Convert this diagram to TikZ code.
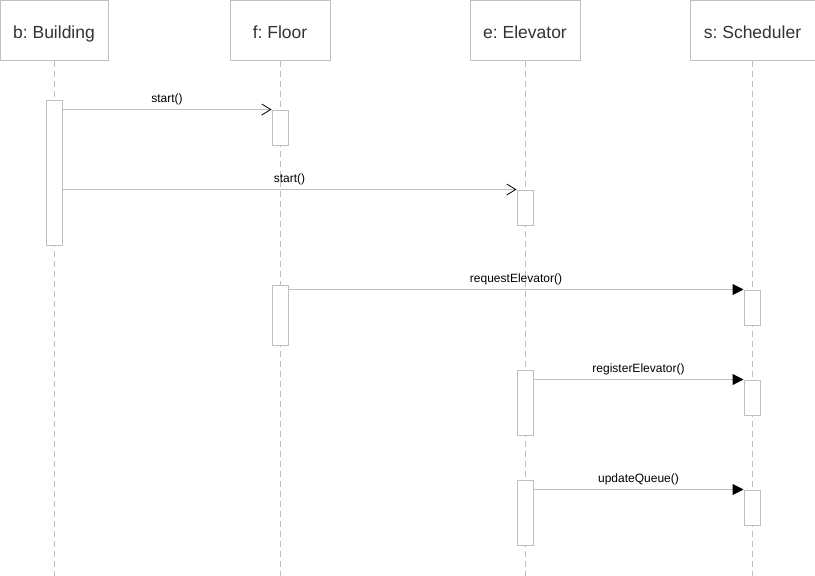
\documentclass[tikz,border=0pt]{standalone}
\usepackage{fontspec}
\setmainfont{Liberation Sans}
\usetikzlibrary{arrows.meta, calc}
\frenchspacing

\begin{document}
\begin{tikzpicture}[x=1pt, y=-1pt, line width=1pt,
  every node/.style={font=\fontsize{12}{14}\selectfont},
  head/.style={draw=black!25, fill=white, minimum height=60pt, inner sep=0pt, text height=16pt, text depth=0pt, text=black!80, font=\fontsize{17.5}{20}\selectfont},
  act/.style={draw=black!25, fill=white, minimum width=16pt, inner sep=0pt},
  life/.style={draw=black!25, dash pattern=on 6pt off 4pt},
  syncmsg/.style={draw=black!25, -{Triangle[length=11pt, width=11pt, color=black]}},
  asyncmsg/.style={draw=black!25, -{Straight Barb[length=9pt, width=11pt, line width=0.8pt, color=black]}}]
  \useasboundingbox (0,0) rectangle (815,576);
  % lifeline heads
  \node[head, minimum width=108pt] (building) at (54,30) {b: Building};
  \node[head, minimum width=100pt] (floor) at (280,30) {f: Floor};
  \node[head, minimum width=110pt] (elevator) at (525,30) {e: Elevator};
  \node[head, minimum width=125pt] (scheduler) at (752.5,30) {s: Scheduler};
  \draw[life] (building.south) -- (building.south |- 0,576);
  \draw[life] (floor.south) -- (floor.south |- 0,576);
  \draw[life] (elevator.south) -- (elevator.south |- 0,576);
  \draw[life] (scheduler.south) -- (scheduler.south |- 0,576);
  % activations
  \node[act, minimum height=145pt] (actB1) at (54,172.5) {};
  \node[act, minimum height=35pt] (actF1) at (280,127.5) {};
  \node[act, minimum height=35pt] (actE1) at (525,207.5) {};
  \node[act, minimum height=60pt] (actF2) at (280,315) {};
  \node[act, minimum height=35pt] (actS1) at (752,307.5) {};
  \node[act, minimum height=65pt] (actE2) at (525,402.5) {};
  \node[act, minimum height=35pt] (actS2) at (752,397.5) {};
  \node[act, minimum height=65pt] (actE3) at (525,512.5) {};
  \node[act, minimum height=35pt] (actS3) at (752,507.5) {};
  % messages
  \draw[asyncmsg] (actB1.east |- actF1.north) -- (actF1.north west) node[midway, above, yshift=1pt] {start()};
  \draw[asyncmsg] (actB1.east |- actE1.north) -- (actE1.north west) node[midway, above, yshift=1pt] {start()};
  \draw[syncmsg] (actF2.east |- actS1.north) -- (actS1.north west) node[midway, above, yshift=1pt] {requestElevator()};
  \draw[syncmsg] (actE2.east |- actS2.north) -- (actS2.north west) node[midway, above, yshift=1pt] {registerElevator()};
  \draw[syncmsg] (actE3.east |- actS3.north) -- (actS3.north west) node[midway, above, yshift=1pt] {updateQueue()};
\end{tikzpicture}
\end{document}
